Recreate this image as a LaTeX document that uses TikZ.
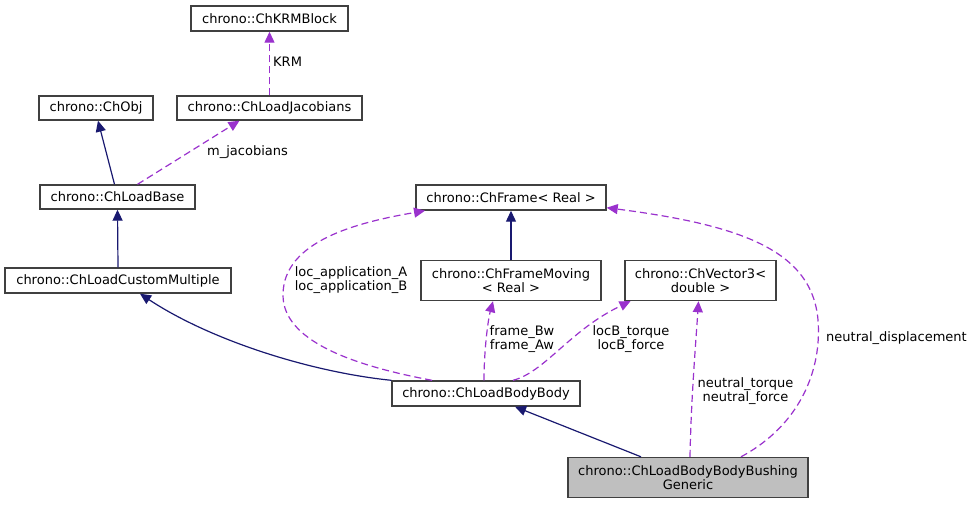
\documentclass[tikz,border=0pt]{standalone}
\usepackage{fontspec}
\setmainfont{DejaVu Sans}
\usetikzlibrary{arrows.meta}
\definecolor{edgeblue}{HTML}{191970}
\definecolor{edgepurple}{HTML}{9A32CD}
\definecolor{boxgray}{HTML}{BFBFBF}
\begin{document}
\begin{tikzpicture}[x=1pt,y=-1pt,
  cls/.style={draw=black!75, line width=1.4pt, inner sep=0pt, align=center,
    font=\fontsize{13}{14}\selectfont, fill=white},
  inh/.style={draw=edgeblue, line width=1.2pt, -{Triangle[length=11pt,width=10pt]}},
  usg/.style={draw=edgepurple, line width=1.2pt, dash pattern=on 7pt off 4pt,
    -{Triangle[length=11pt,width=10pt]}},
  lbl/.style={font=\fontsize{13}{14}\selectfont, align=center, inner sep=0pt}]
\useasboundingbox (0,0) rectangle (973,504);
% nodes
\node[cls, minimum width=157pt, minimum height=25pt] (krm) at (269.5,18.5) {chrono::ChKRMBlock};
\node[cls, minimum width=114pt, minimum height=24pt] (obj) at (96,108) {chrono::ChObj};
\node[cls, minimum width=185pt, minimum height=24pt] (jac) at (269.5,108) {chrono::ChLoadJacobians};
\node[cls, minimum width=155pt, minimum height=24pt] (lb) at (117.5,197) {chrono::ChLoadBase};
\node[cls, minimum width=226pt, minimum height=25pt] (lcm) at (118,280.5) {chrono::ChLoadCustomMultiple};
\node[cls, minimum width=190pt, minimum height=25pt] (frame) at (511,197.5) {chrono::ChFrame< Real >};
\node[cls, minimum width=180pt, minimum height=40pt] (fm) at (511,280.5) {chrono::ChFrameMoving\\< Real >};
\node[cls, minimum width=151pt, minimum height=40pt] (v) at (700.5,280.5) {chrono::ChVector3<\\double >};
\node[cls, minimum width=188pt, minimum height=25pt] (bb) at (486,393.5) {chrono::ChLoadBodyBody};
\node[cls, fill=boxgray, minimum width=240pt, minimum height=40pt] (g) at (688,477.5) {chrono::ChLoadBodyBodyBushing\\Generic};
% edges
\draw[usg] (jac.north) -- (krm.south);
\node[lbl, anchor=west] (lkrm) at (273,62) {KRM};
\draw[inh] ([xshift=-3pt]lb.north) -- ([xshift=2pt]obj.south);
\draw[usg] ([xshift=20pt]lb.north) -- ([xshift=-30pt]jac.south);
\node[lbl] (ljac) at (247.5,152) {m\_jacobians};
\draw[inh] (lcm.north) -- (lb.south);
\draw[inh] (bb.north west) .. controls (310,372) and (210,340) .. ([xshift=22pt]lcm.south);
\draw[usg] ([xshift=-54pt]bb.north) .. controls (350,365) and (283,340) .. (283,295)
  .. controls (283,240) and (360,222) .. ([xshift=-86pt]frame.south);
\node[lbl] (lapp) at (351,280) {loc\_application\_A\\loc\_application\_B};
\draw[inh] (fm.north) -- (frame.south);
\draw[usg] ([xshift=-2pt]bb.north) .. controls (484,350) and (488,320) .. ([xshift=-18pt]fm.south);
\node[lbl] (lfr) at (522,339) {frame\_Bw\\frame\_Aw};
\draw[usg] ([xshift=27pt]bb.north) .. controls (545,372) and (570,330) .. ([xshift=-70pt]v.south);
\node[lbl] (lloc) at (631,339) {locB\_torque\\locB\_force};
\draw[inh] ([xshift=-47pt]g.north) -- ([xshift=29pt]bb.south);
\draw[usg] ([xshift=2pt]g.north) .. controls (691,400) and (696,340) .. ([xshift=-2pt]v.south);
\node[lbl] (lneu) at (745.5,391.5) {neutral\_torque\\neutral\_force};
\draw[usg] ([xshift=53pt]g.north) .. controls (800,425) and (822,370) .. (818,320)
  .. controls (812,250) and (740,225) .. ([yshift=3pt]frame.south east);
\node[lbl] (ldisp) at (896.5,338) {neutral\_displacement};
\end{tikzpicture}
\end{document}
